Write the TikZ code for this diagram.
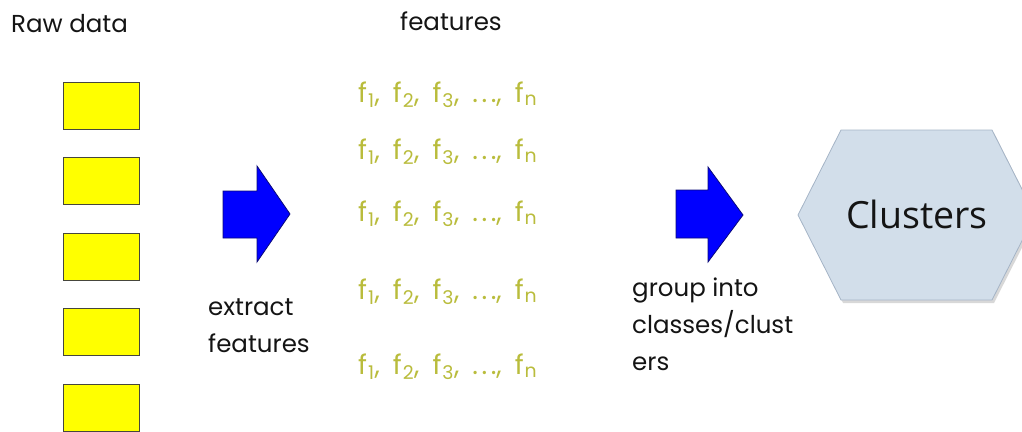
\documentclass[tikz,border=0pt]{standalone}
\usepackage{fontspec}
\newfontfamily\geo{Poppins}
\newfontfamily\clu{Open Sans}
\definecolor{boxyellow}{RGB}{255,255,0}
\definecolor{boxedge}{RGB}{70,70,60}
\definecolor{feat}{RGB}{185,188,60}
\definecolor{arrblue}{RGB}{0,0,255}
\definecolor{arredge}{RGB}{10,10,120}
\definecolor{hexfill}{RGB}{210,222,234}
\definecolor{hexedge}{RGB}{165,180,198}
\definecolor{txt}{RGB}{20,20,20}
\tikzset{
  rawbox/.style={draw=boxedge, line width=0.9pt, fill=boxyellow, minimum width=76pt, minimum height=47pt, inner sep=0pt, anchor=north west},
  lbl/.style={font=\geo\fontsize{24.5}{37}\selectfont, text=txt, inner sep=0pt, anchor=base west, align=left},
  featrow/.style={font=\geo\fontsize{27}{30}\selectfont, text=feat, inner sep=0pt, anchor=base west},
  bigarrow/.style={draw=arredge, line width=0.8pt, fill=arrblue},
}
\newcommand{\fsp}{\hspace{13pt}}
\newcommand{\fsub}[1]{f\kern1pt\textsubscript{#1}}
\newcommand{\frow}{\fsub{1},\fsp\fsub{2},\fsp\fsub{3},\fsp.\kern3.5pt.\kern3.5pt.,\fsp\fsub{n}}
\begin{document}
\begin{tikzpicture}[x=1pt,y=-1pt]
\useasboundingbox (0,0) rectangle (1022,431);
% titles
\node[lbl] (raw) at (11,32) {Raw data};
\node[lbl] (feattitle) at (400,30) {features};
% raw data boxes
\node[rawbox] (b1) at (63,82) {};
\node[rawbox] (b2) at (63,157) {};
\node[rawbox] (b3) at (63,233) {};
\node[rawbox] (b4) at (63,308) {};
\node[rawbox] (b5) at (63,383.5) {};
% arrow 1
\draw[bigarrow] (223,191) -- (257,191) -- (257,166) -- (290,214) -- (257,262) -- (257,238) -- (223,238) -- cycle;
\node[lbl] (extract) at (208,352) {extract\\features};
% feature rows
\node[featrow] (r1) at (358,102) {\frow};
\node[featrow] (r2) at (358,159) {\frow};
\node[featrow] (r3) at (358,221) {\frow};
\node[featrow] (r4) at (358,299) {\frow};
\node[featrow] (r5) at (358,374) {\frow};
% arrow 2
\draw[bigarrow] (676,190) -- (708,190) -- (708,167) -- (743,215) -- (708,262) -- (708,238) -- (676,238) -- cycle;
\node[lbl] (group) at (632,370) {group into\\classes/clust\\ers};
% hexagon
\fill[black!30, opacity=0.5] (800,218) -- (843,133) -- (994,133) -- (1037,218) -- (994,303) -- (843,303) -- cycle;
\draw[hexedge, line width=0.8pt, fill=hexfill] (798,215) -- (841,130) -- (992,130) -- (1035,215) -- (992,300) -- (841,300) -- cycle;
\node[font=\clu\fontsize{37.5}{40}\selectfont, text=txt, inner sep=0pt] (clusters) at (917,214) {Clusters};
\end{tikzpicture}
\end{document}
